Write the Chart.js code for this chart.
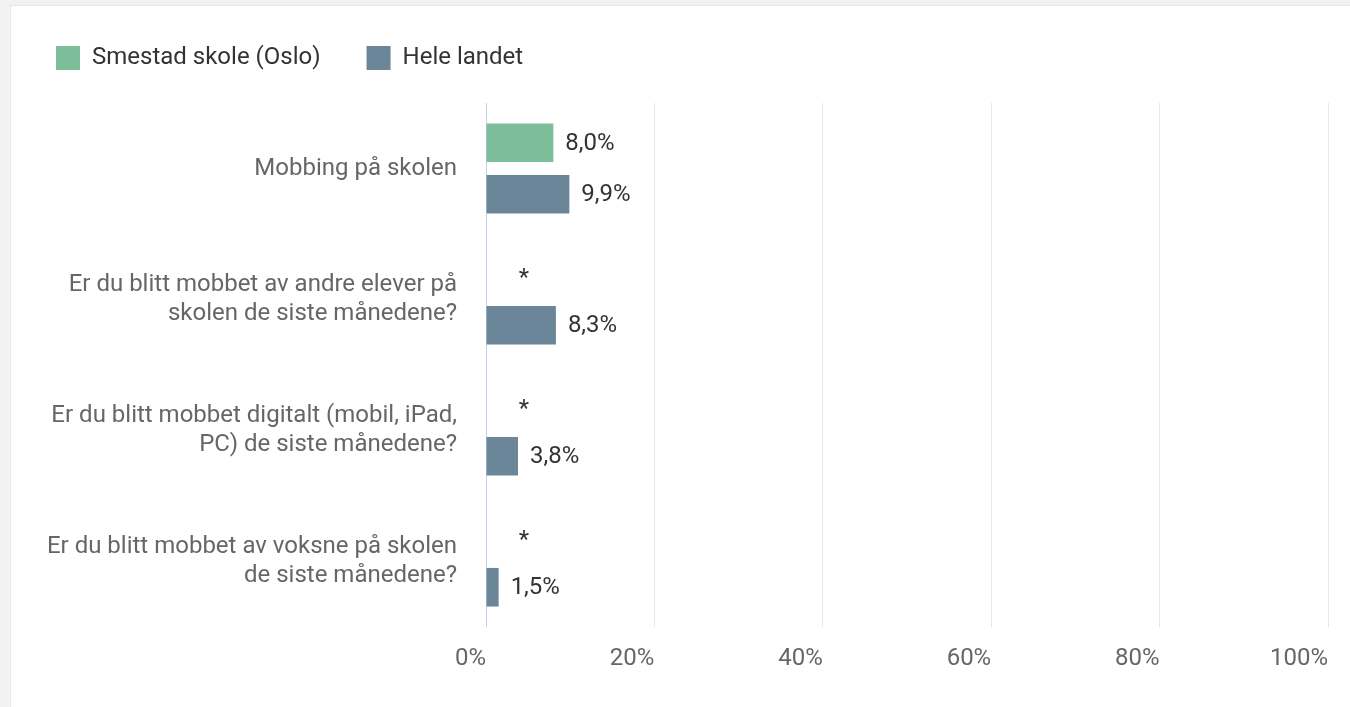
<!DOCTYPE html>
<html><head><meta charset="utf-8">
<script src="https://cdn.jsdelivr.net/npm/chart.js@4/dist/chart.umd.min.js"></script>
<style>
html,body{margin:0;padding:0;background:#f2f2f2;width:1350px;height:707px;overflow:hidden}
#card{position:absolute;left:10px;top:5px;right:0;bottom:0;background:#fff;border-top:1px solid #e8e8e8;border-left:1px solid #e8e8e8}
#wrap{position:absolute;left:0;top:0;width:1350px;height:707px}
</style></head><body>
<div id="card"></div>
<div id="wrap"><canvas id="c" width="1350" height="707"></canvas></div>
<script>
const categories = [
  'Mobbing på skolen',
  ['Er du blitt mobbet av andre elever på', 'skolen de siste månedene?'],
  ['Er du blitt mobbet digitalt (mobil, iPad,', 'PC) de siste månedene?'],
  ['Er du blitt mobbet av voksne på skolen', 'de siste månedene?']
];
const seriesNames = ['Smestad skole (Oslo)', 'Hele landet'];
const smestad = [8.0, null, null, null];
const heleLandet = [9.9, 8.3, 3.8, 1.5];
const xTickValues = [0, 20, 40, 60, 80, 100];

const FONT = 'Roboto';

const legendFit = {
  id: 'legendFit',
  beforeInit(chart) {
    const orig = chart.legend.fit;
    chart.legend.fit = function () { orig.call(this); this.height = 103; };
  }
};

const valueLabels = {
  id: 'valueLabels',
  afterDatasetsDraw(chart) {
    const ctx = chart.ctx;
    const xs = chart.scales.x, ys = chart.scales.y;
    ctx.save();
    ctx.font = '24px ' + FONT;
    chart.data.datasets.forEach((ds, di) => {
      const meta = chart.getDatasetMeta(di);
      meta.data.forEach((bar, i) => {
        const v = ds.data[i];
        let by = bar.y;
        if (!isFinite(by)) by = ys.getPixelForValue(i) - 25;
        ctx.fillStyle = '#333';
        if (v == null) {
          ctx.textAlign = 'center';
          ctx.textBaseline = 'alphabetic';
          ctx.fillText('*', xs.getPixelForValue(0) + 38, by + 11);
        } else {
          ctx.textAlign = 'left';
          ctx.textBaseline = 'middle';
          ctx.fillText(v.toFixed(1).replace('.', ',') + '%', bar.x + 12, by + 1);
        }
      });
    });
    ctx.restore();
  }
};

new Chart(document.getElementById('c'), {
  type: 'bar',
  data: {
    labels: categories,
    datasets: [
      { label: seriesNames[0], data: smestad, backgroundColor: '#7dbe9a', borderWidth: 0 },
      { label: seriesNames[1], data: heleLandet, backgroundColor: '#6b8599', borderWidth: 0 }
    ]
  },
  options: {
    indexAxis: 'y',
    responsive: false,
    animation: false,
    devicePixelRatio: 1,
    categoryPercentage: 0.786,
    barPercentage: 0.75,
    layout: { padding: { left: 10, right: 22, top: 0, bottom: 0 } },
    plugins: {
      legend: {
        position: 'top',
        align: 'start',
        labels: {
          boxWidth: 24, boxHeight: 24, padding: 46,
          color: '#333', font: { family: FONT, size: 24 }
        }
      },
      tooltip: { enabled: false }
    },
    scales: {
      x: {
        min: 0, max: 100,
        afterBuildTicks(scale) { scale.ticks = xTickValues.map(v => ({ value: v })); },
        afterFit(scale) { scale.height = 80; },
        border: { display: false },
        grid: {
          drawTicks: false,
          color: (c) => (c.tick && c.tick.value === 0) ? '#c4cfe8' : '#e6e6e6',
          lineWidth: 1
        },
        ticks: {
          align: 'end',
          padding: 18,
          color: '#666',
          font: { family: FONT, size: 24 },
          callback: (v) => v + '%'
        }
      },
      y: {
        afterFit(scale) { scale.width = 476; },
        border: { display: false },
        grid: { display: false, drawTicks: false },
        ticks: {
          padding: 29,
          color: '#666',
          font: { family: FONT, size: 24, lineHeight: 1.24 }
        }
      }
    }
  },
  plugins: [legendFit, valueLabels]
});
</script>
</body></html>
